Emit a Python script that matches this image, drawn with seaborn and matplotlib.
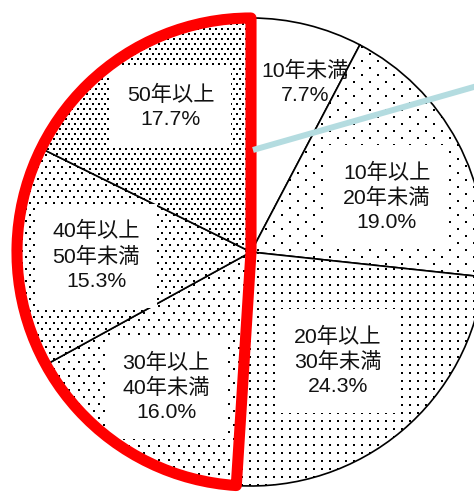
import numpy as np
import matplotlib
matplotlib.use("Agg")
import matplotlib.pyplot as plt
from matplotlib.patches import Wedge
import seaborn as sns

sns.set_theme(style="white")
plt.rcParams["font.family"] = ["Liberation Sans", "Noto Sans CJK JP"]

# Building age distribution
categories = ["10年未満", "10年以上\n20年未満", "20年以上\n30年未満",
              "30年以上\n40年未満", "40年以上\n50年未満", "50年以上"]
shares = [7.7, 19.0, 24.3, 16.0, 15.3, 17.7]

# Dot screen for each slice: (column step px, row step px, staggered rows)
screens = [None, (16, 7, True), (8, 8, False), (10, 7, True), (8, 6, True), (6, 5, True)]
# Label anchors in axes-data units (pie radius = 1)
label_xy = [(0.231, 0.722), (0.581, 0.235), (0.372, -0.466),
            (-0.363, -0.577), (-0.662, -0.017), (-0.344, 0.620)]

W, H = 474, 494
cx, cy, R = 251, 252, 234
px = 1.0 / R

fig = plt.figure(figsize=(W / 100, H / 100), dpi=100)
ax = fig.add_axes([0, 0, 1, 1])

wedges, _ = ax.pie(shares, startangle=90, counterclock=False, radius=1,
                   colors=["white"] * len(shares),
                   wedgeprops=dict(edgecolor="black", linewidth=1.2))

# dotted screens clipped to each slice
for w, scr in zip(wedges, screens):
    if scr is None:
        continue
    sx, sy, stag = scr
    X, Y = [], []
    for i, y in enumerate(np.arange(-1.1, 1.1, sy * px)):
        off = sx * px / 2 if (stag and i % 2) else 0.0
        xs = np.arange(-1.1, 1.1, sx * px) + off
        X.extend(xs)
        Y.extend([y] * len(xs))
    sc = ax.scatter(X, Y, s=2.3, marker="s", c="black", linewidths=0, zorder=2)
    sc.set_clip_path(w)

# labels with white boxes
for i, (cat, val, (lx, ly)) in enumerate(zip(categories, shares, label_xy)):
    box = None if screens[i] is None else dict(boxstyle="square,pad=0.8", fc="white", ec="none")
    ax.text(lx, ly, f"{cat}\n{val:.1f}%", ha="center", va="center",
            fontsize=15.3, color="#111111", linespacing=1.32, bbox=box, zorder=3)

# highlight for the older half
cum = np.cumsum(shares)
t2 = 90 + 360 * (100 - cum[2]) / 100
ax.add_patch(Wedge((0, 0), 1, 90, t2, fill=False, edgecolor="#ff0000",
                   linewidth=8, joinstyle="round", capstyle="round", zorder=5))

# pointer line
ax.plot([0.0085, 1.2], [0.436, 0.776], color="#b4dce0", linewidth=4.3,
        solid_capstyle="butt", zorder=6)

ax.set_xlim(-cx * px, (W - cx) * px)
ax.set_ylim(-(H - cy) * px, cy * px)
ax.set_aspect("equal")
ax.axis("off")

fig.savefig("out.png", dpi=100)
